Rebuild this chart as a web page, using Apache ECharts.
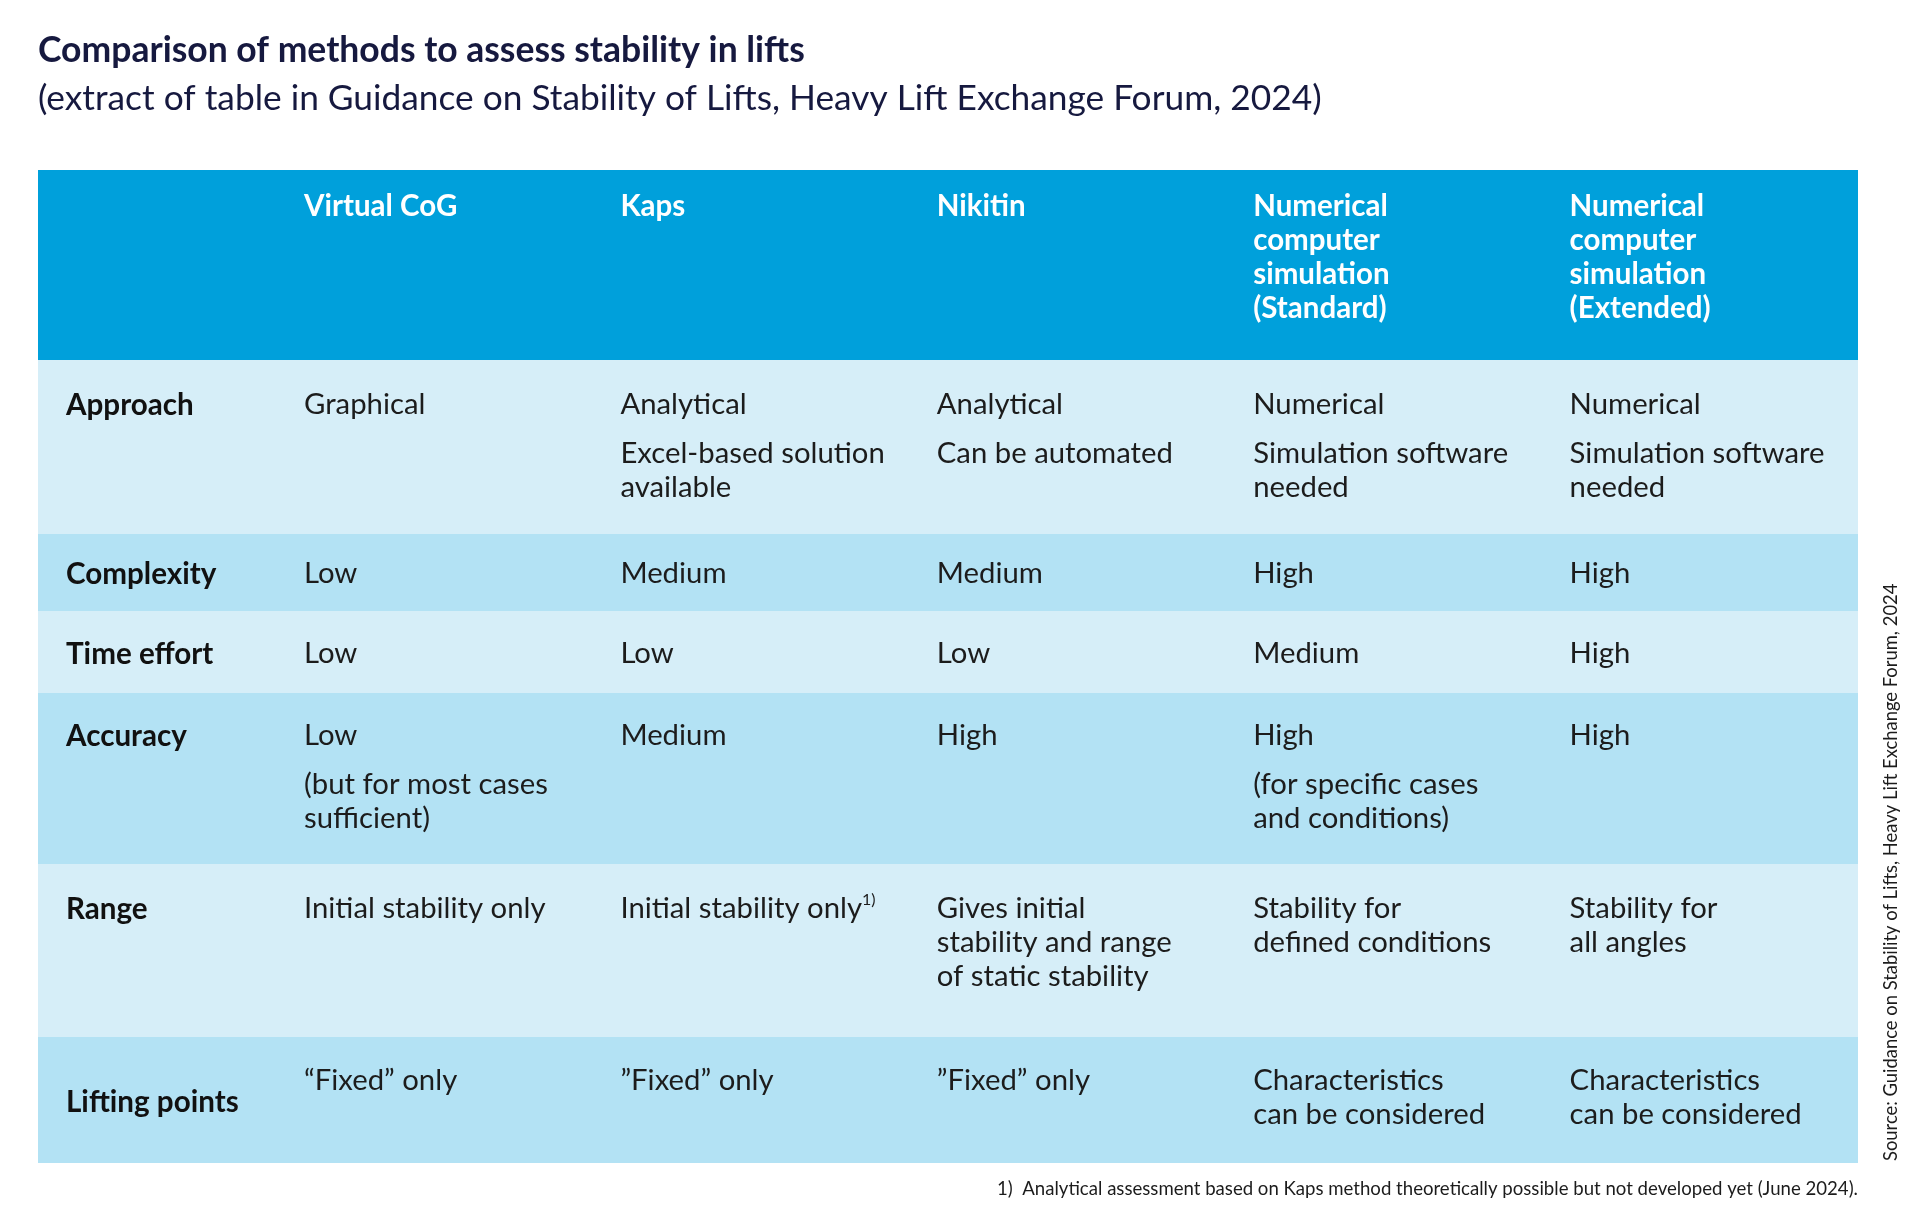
<!DOCTYPE html>
<html>
<head>
<meta charset="utf-8">
<script src="https://cdn.jsdelivr.net/npm/echarts@6/dist/echarts.min.js"></script>
<style>
html,body{margin:0;padding:0;background:#fff;}
#chart{width:1920px;height:1228px;}
</style>
</head>
<body>
<div id="chart"></div>
<script>
// ---------- DATA ----------
const titleText = 'Comparison of methods to assess stability in lifts';
const subtitleText = '(extract of table in Guidance on Stability of Lifts, Heavy Lift Exchange Forum, 2024)';
const footnoteText = '1)  Analytical assessment based on Kaps method theoretically possible but not developed yet (June 2024).';
const sourceText = 'Source: Guidance on Stability of Lifts, Heavy Lift Exchange Forum, 2024';

const methods = [
  'Virtual CoG',
  'Kaps',
  'Nikitin',
  'Numerical\ncomputer\nsimulation\n(Standard)',
  'Numerical\ncomputer\nsimulation\n(Extended)'
];
const criteria = ['Approach', 'Complexity', 'Time effort', 'Accuracy', 'Range', 'Lifting points'];

const approach = [
  ['Graphical'],
  ['Analytical', 'Excel-based solution\navailable'],
  ['Analytical', 'Can be automated'],
  ['Numerical', 'Simulation software\nneeded'],
  ['Numerical', 'Simulation software\nneeded']
];
const complexity = [['Low'], ['Medium'], ['Medium'], ['High'], ['High']];
const timeEffort = [['Low'], ['Low'], ['Low'], ['Medium'], ['High']];
const accuracy = [
  ['Low', '(but for most cases\nsufficient)'],
  ['Medium'],
  ['High'],
  ['High', '(for specific cases\nand conditions)'],
  ['High']
];
const range = [
  ['Initial stability only'],
  ['Initial stability only{sup|1)}'],
  ['Gives initial\nstability and range\nof static stability'],
  ['Stability for\ndefined conditions'],
  ['Stability for\nall angles']
];
const liftingPoints = [
  ['\u201CFixed\u201D only'],
  ['\u201DFixed\u201D only'],
  ['\u201DFixed\u201D only'],
  ['Characteristics\ncan be considered'],
  ['Characteristics\ncan be considered']
];
const tableValues = [approach, complexity, timeEffort, accuracy, range, liftingPoints];

// ---------- LAYOUT / STYLE ----------
const colWidths = [238, 316.4, 316.4, 316.4, 316.4, 316.4];
const rowHeights = [190, 174, 77, 82, 171, 173, 126]; // header + 6 rows
const rowPadTop = [19, 28, 23, 26, 26, 28, 27];
const labelMiddle = [false, false, false, false, false, false, true];
const rowFill = ['#00A0DB', '#D6EEF8', '#B3E2F4', '#D6EEF8', '#B3E2F4', '#D6EEF8', '#B3E2F4'];
const totalW = colWidths.reduce((a, b) => a + b, 0);
const totalH = rowHeights.reduce((a, b) => a + b, 0);
const FONT = 'Lato, "Noto Sans", sans-serif';
const LINE_H = 34;
const PARA_GAP = 15;
const PAD_LEFT = 28;
const BODY_SIZE = 29.3;

function cumul(arr, n) { let s = 0; for (let i = 0; i < n; i++) s += arr[i]; return s; }

// cell items: [col, row]   row 0 = header
const bandData = rowHeights.map((h, r) => [r]);
const cellData = [];
for (let c = 1; c < colWidths.length; c++) cellData.push([c, 0]);
for (let r = 1; r < rowHeights.length; r++) {
  cellData.push([0, r]);
  for (let c = 1; c < colWidths.length; c++) cellData.push([c, r]);
}

const chart = echarts.init(document.getElementById('chart'), null, {renderer: 'canvas'});

function textEl(x, y, text, opts) {
  return {
    type: 'text',
    x: x, y: y,
    style: Object.assign({
      text: text,
      fill: '#1c1c1c',
      fontFamily: FONT,
      fontSize: BODY_SIZE,
      fontWeight: 'normal',
      lineHeight: LINE_H,
      align: 'left', verticalAlign: 'top',
      textAlign: 'left', textVerticalAlign: 'top'
    }, opts || {})
  };
}

const option = {
  backgroundColor: '#ffffff',
  animation: false,
  grid: {left: 38, top: 170, width: totalW, height: totalH, containLabel: false, show: false},
  xAxis: {type: 'value', min: 0, max: totalW, show: false},
  yAxis: {type: 'value', min: 0, max: totalH, inverse: true, show: false},
  graphic: [
    {type: 'text', x: 38, y: 51, style: {text: titleText, fill: '#16193F', fontFamily: FONT, fontSize: 35.5, fontWeight: 'bold', align: 'left', verticalAlign: 'middle', textAlign: 'left', textVerticalAlign: 'middle'}},
    {type: 'text', x: 38, y: 99, style: {text: subtitleText, fill: '#16193F', fontFamily: FONT, fontSize: 35.3, fontWeight: 'normal', align: 'left', verticalAlign: 'middle', textAlign: 'left', textVerticalAlign: 'middle'}},
    {type: 'text', x: 1858, y: 1189, style: {text: footnoteText, fill: '#1c1c1c', fontFamily: FONT, fontSize: 18.6, align: 'right', verticalAlign: 'middle', textAlign: 'right', textVerticalAlign: 'middle'}},
    {type: 'text', x: 1891, y: 1161, rotation: Math.PI / 2, style: {text: sourceText, fill: '#1c1c1c', fontFamily: FONT, fontSize: 18.4, align: 'left', verticalAlign: 'middle', textAlign: 'left', textVerticalAlign: 'middle'}}
  ],
  series: [
    {
      type: 'custom',
      coordinateSystem: 'cartesian2d',
      data: bandData,
      encode: {x: -1, y: 0},
      silent: true,
      renderItem: function (params, api) {
        const r = api.value(0);
        const y0 = cumul(rowHeights, r);
        const p0 = api.coord([0, y0]);
        const p1 = api.coord([totalW, y0 + rowHeights[r]]);
        return {
          type: 'rect',
          shape: {x: p0[0], y: p0[1], width: p1[0] - p0[0], height: p1[1] - p0[1]},
          style: {fill: rowFill[r]}
        };
      }
    },
    {
      type: 'custom',
      coordinateSystem: 'cartesian2d',
      data: cellData,
      encode: {x: 0, y: 1},
      silent: true,
      renderItem: function (params, api) {
        const c = api.value(0), r = api.value(1);
        const x0 = cumul(colWidths, c);
        const y0 = cumul(rowHeights, r);
        const pTop = api.coord([x0, y0]);
        const pBot = api.coord([x0, y0 + rowHeights[r]]);
        const tx = pTop[0] + PAD_LEFT;
        const children = [];
        if (r === 0) {
          children.push(textEl(tx, pTop[1] + rowPadTop[r], methods[c - 1], {fill: '#ffffff', fontWeight: 'bold', fontSize: 29.5}));
        } else if (c === 0) {
          if (labelMiddle[r]) {
            children.push(textEl(tx, (pTop[1] + pBot[1]) / 2 + 2, criteria[r - 1], {fontWeight: 'bold', fontSize: 29.6, fill: '#111111', verticalAlign: 'middle', textVerticalAlign: 'middle'}));
          } else {
            children.push(textEl(tx, pTop[1] + rowPadTop[r], criteria[r - 1], {fontWeight: 'bold', fontSize: 29.6, fill: '#111111'}));
          }
        } else {
          const paras = tableValues[r - 1][c - 1];
          let y = pTop[1] + rowPadTop[r];
          paras.forEach(function (p) {
            const n = p.split('\n').length;
            children.push(textEl(tx, y, p, {
              rich: {sup: {fontSize: 16, fontFamily: FONT, fill: '#1c1c1c', verticalAlign: 'top', lineHeight: 24}}
            }));
            y += n * LINE_H + PARA_GAP;
          });
        }
        return {type: 'group', children: children};
      }
    }
  ]
};
chart.setOption(option);
</script>
</body>
</html>
